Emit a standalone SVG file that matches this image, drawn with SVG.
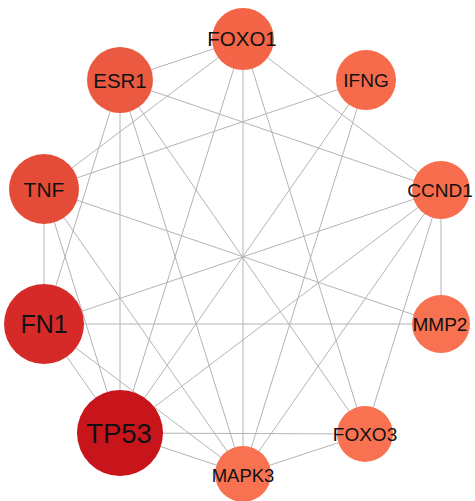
<svg xmlns="http://www.w3.org/2000/svg" width="475" height="501" viewBox="0 0 475 501">
<style>
.e line{stroke:#b4b4b4;stroke-width:1}
text{font-family:"Liberation Sans",Arial,sans-serif;fill:#111;text-anchor:middle}
</style>
<rect width="475" height="501" fill="#fff"/>
<g id="edges" class="e">
<line x1="243" y1="39" x2="120" y2="80"/>
<line x1="243" y1="39" x2="44" y2="189"/>
<line x1="243" y1="39" x2="120" y2="433"/>
<line x1="243" y1="39" x2="243" y2="474"/>
<line x1="243" y1="39" x2="365" y2="434"/>
<line x1="243" y1="39" x2="441" y2="190"/>
<line x1="120" y1="80" x2="441" y2="190"/>
<line x1="120" y1="80" x2="120" y2="433"/>
<line x1="120" y1="80" x2="44" y2="324"/>
<line x1="120" y1="80" x2="243" y2="474"/>
<line x1="120" y1="80" x2="365" y2="434"/>
<line x1="44" y1="189" x2="366" y2="80"/>
<line x1="44" y1="189" x2="441" y2="324"/>
<line x1="44" y1="189" x2="44" y2="324"/>
<line x1="44" y1="189" x2="120" y2="433"/>
<line x1="44" y1="189" x2="243" y2="474"/>
<line x1="44" y1="324" x2="441" y2="190"/>
<line x1="44" y1="324" x2="441" y2="324"/>
<line x1="44" y1="324" x2="243" y2="474"/>
<line x1="44" y1="324" x2="120" y2="433"/>
<line x1="366" y1="80" x2="120" y2="433"/>
<line x1="366" y1="80" x2="243" y2="474"/>
<line x1="441" y1="190" x2="120" y2="433"/>
<line x1="441" y1="190" x2="243" y2="474"/>
<line x1="441" y1="190" x2="365" y2="434"/>
<line x1="441" y1="190" x2="441" y2="324"/>
<line x1="120" y1="433" x2="365" y2="434"/>
<line x1="120" y1="433" x2="243" y2="474"/>
<line x1="365" y1="434" x2="243" y2="474"/>
</g>
<g id="FOXO1"><circle cx="243" cy="39" r="31" fill="#f46446"/><text x="242" y="46" font-size="20.5">FOXO1</text></g>
<g id="IFNG"><circle cx="366" cy="80" r="30" fill="#f76b4d"/><text x="366" y="87" font-size="19">IFNG</text></g>
<g id="CCND1"><circle cx="441" cy="190" r="29" fill="#f86d4e"/><text x="440" y="197" font-size="19">CCND1</text></g>
<g id="MMP2"><circle cx="441" cy="324" r="29" fill="#f87150"/><text x="440" y="331" font-size="19">MMP2</text></g>
<g id="FOXO3"><circle cx="365" cy="434" r="28" fill="#f87252"/><text x="365" y="441" font-size="19">FOXO3</text></g>
<g id="MAPK3"><circle cx="243" cy="474" r="28" fill="#f87252"/><text x="243" y="482" font-size="18.5">MAPK3</text></g>
<g id="TP53"><circle cx="120" cy="433" r="43" fill="#c8151c"/><text x="119" y="443" font-size="27.5">TP53</text></g>
<g id="FN1"><circle cx="44" cy="324" r="40" fill="#d62a28"/><text x="44" y="333" font-size="25">FN1</text></g>
<g id="TNF"><circle cx="44" cy="189" r="35" fill="#e54c37"/><text x="44" y="197" font-size="21">TNF</text></g>
<g id="ESR1"><circle cx="120" cy="80" r="33" fill="#ec5941"/><text x="120" y="88" font-size="20.5">ESR1</text></g>
</svg>
